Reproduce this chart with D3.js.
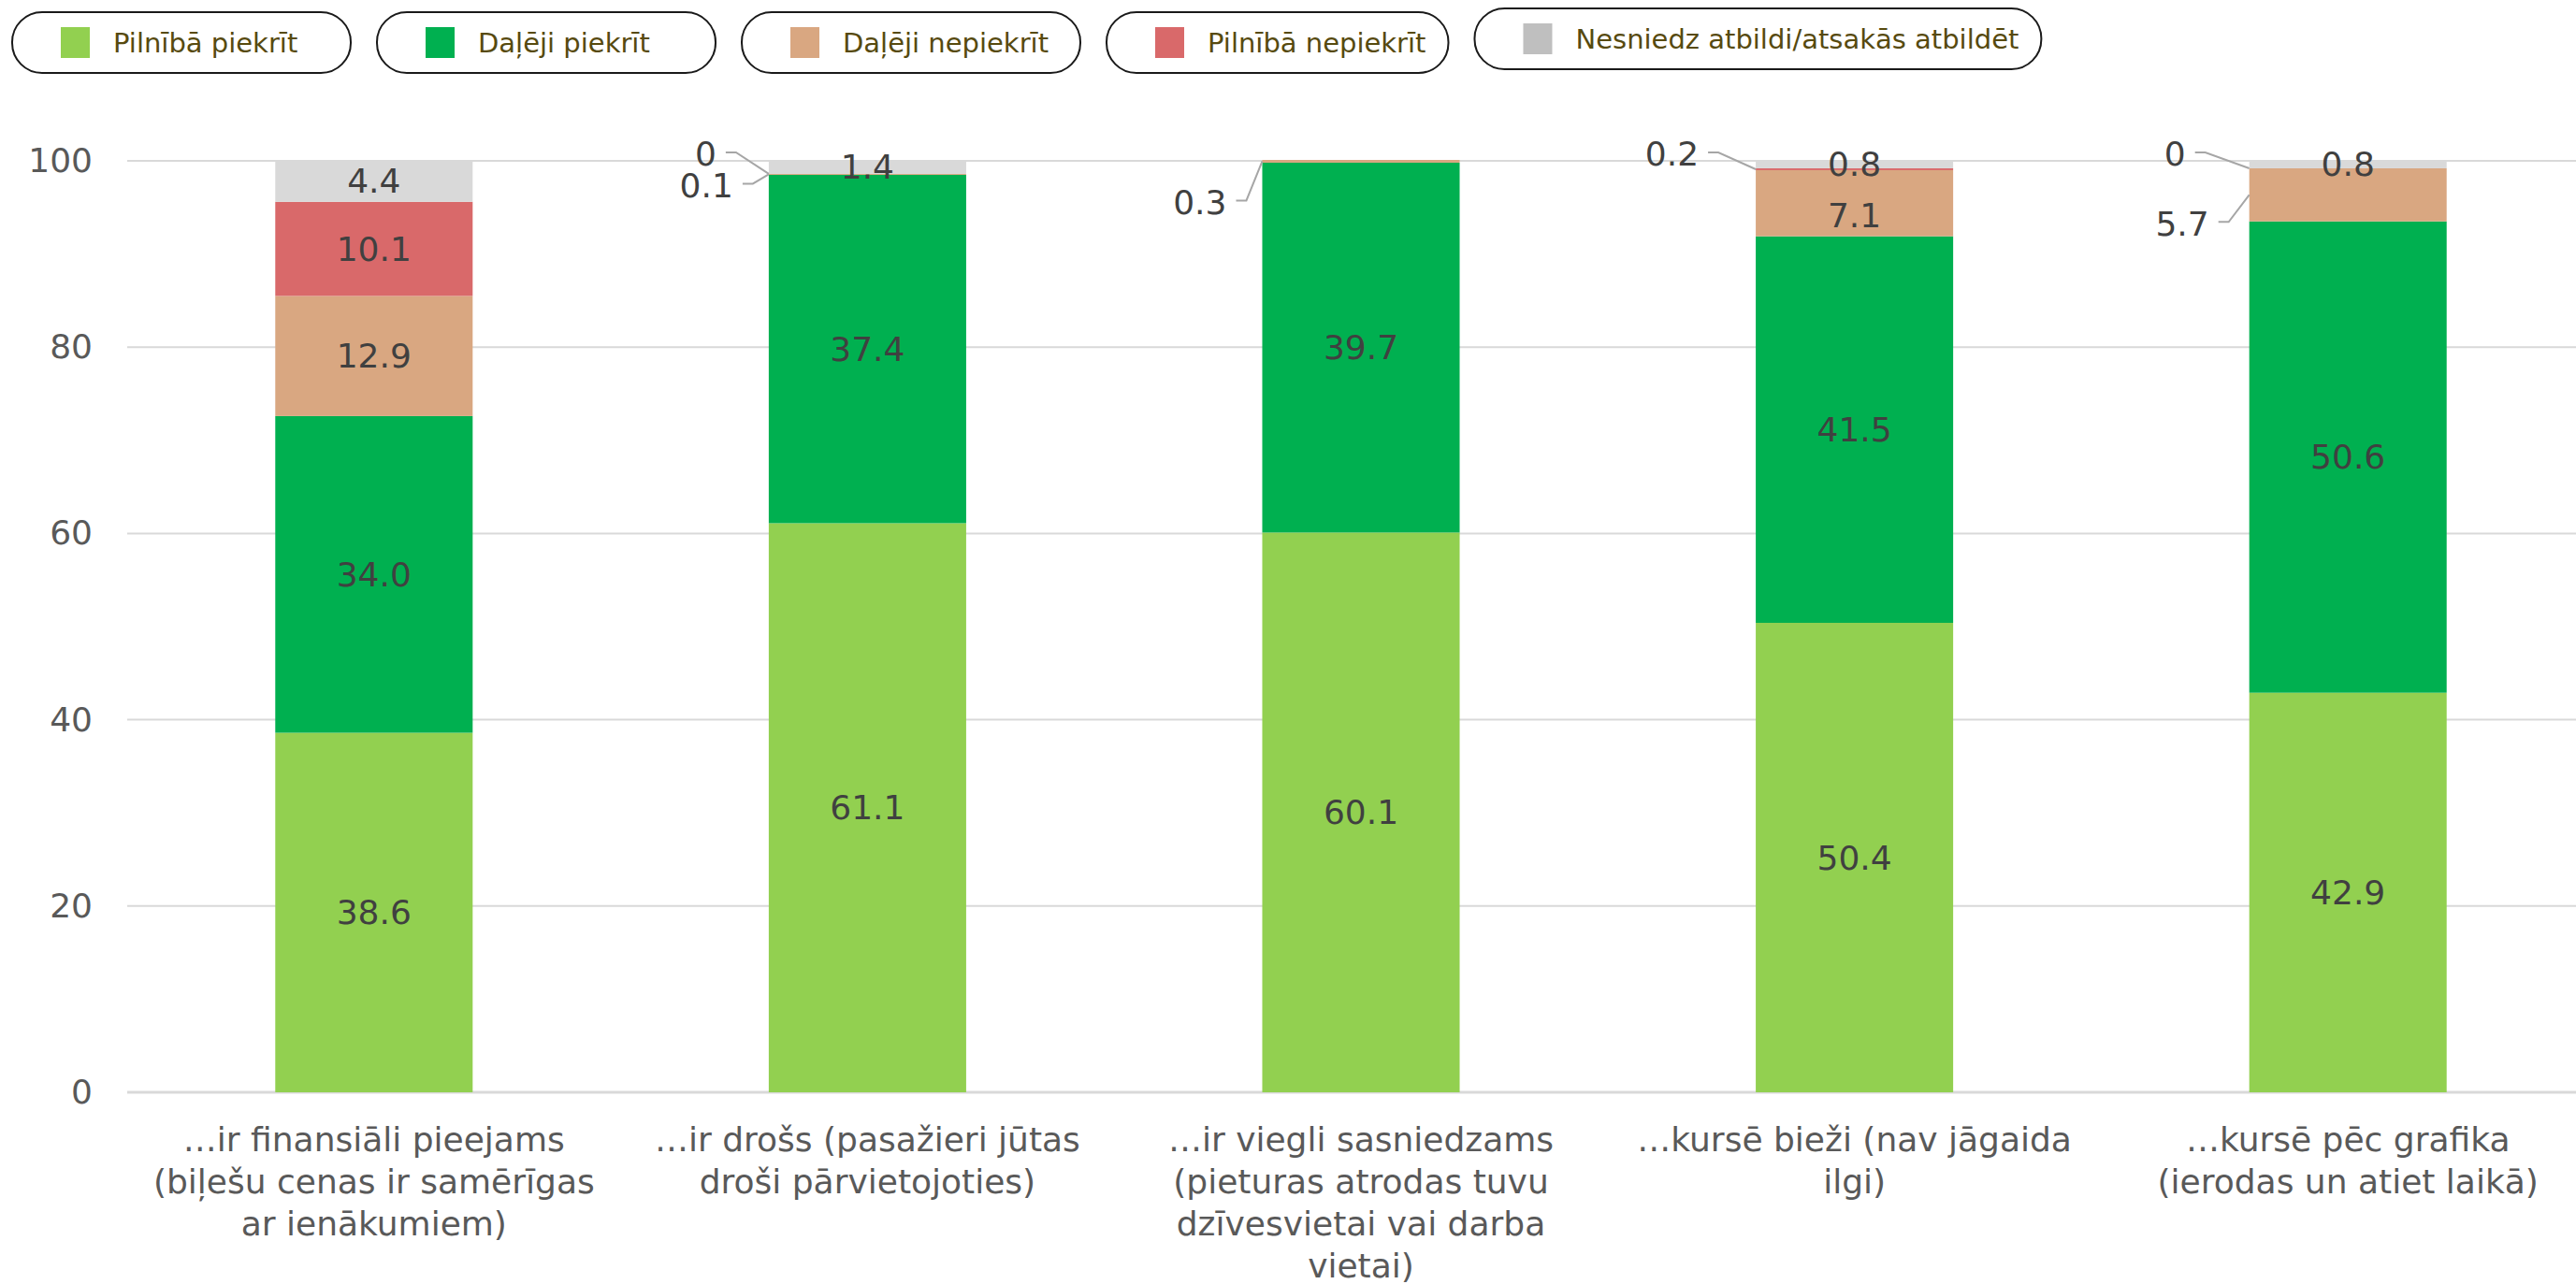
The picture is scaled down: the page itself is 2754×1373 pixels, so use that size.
<!DOCTYPE html>
<html>
<head>
<meta charset="utf-8">
<script src="https://cdn.jsdelivr.net/npm/d3@7"></script>
<style>
  body { margin: 0; background: #fff; }
  svg { display: block; font-family: "DejaVu Sans", Verdana, sans-serif; }
</style>
</head>
<body>
<svg id="chart" width="2754" height="1373"></svg>
<script>
// data
var categories = [
  ["…ir finansiāli pieejams", "(biļešu cenas ir samērīgas", "ar ienākumiem)"],
  ["…ir drošs (pasažieri jūtas", "droši pārvietojoties)"],
  ["…ir viegli sasniedzams", "(pieturas atrodas tuvu", "dzīvesvietai vai darba", "vietai)"],
  ["…kursē bieži (nav jāgaida", "ilgi)"],
  ["…kursē pēc grafika", "(ierodas un atiet laikā)"]
];
var seriesNames = ["Pilnībā piekrīt", "Daļēji piekrīt", "Daļēji nepiekrīt", "Pilnībā nepiekrīt", "Nesniedz atbildi/atsakās atbildēt"];
var pilnibaPiekrit   = [38.6, 61.1, 60.1, 50.4, 42.9];
var dalejiPiekrit    = [34.0, 37.4, 39.7, 41.5, 50.6];
var dalejiNepiekrit  = [12.9, 0.1, 0.3, 7.1, 5.7];
var pilnibaNepiekrit = [10.1, 0, null, 0.2, 0];
var nesniedz         = [4.4, 1.4, null, 0.8, 0.8];
var yTicks = [0, 20, 40, 60, 80, 100];

var seriesValues = [pilnibaPiekrit, dalejiPiekrit, dalejiNepiekrit, pilnibaNepiekrit, nesniedz];
var barColors = ["#92d050", "#00b050", "#d9a781", "#d9696a", "#d9d9d9"];
var legendColors = ["#92d050", "#00b050", "#d9a781", "#d9696a", "#bfbfbf"];

// labels that Excel pulled outside the bar (category, series, leader offsets)
var callouts = [
  {c: 1, s: 2, dx: -28, dy: 10},
  {c: 1, s: 3, dx: -46, dy: -23},
  {c: 2, s: 2, dx: -28, dy: 42},
  {c: 3, s: 3, dx: -51, dy: -18},
  {c: 4, s: 3, dx: -58, dy: -17},
  {c: 4, s: 2, dx: -33, dy: 29}
];

var svg = d3.select("#chart");

var x = d3.scaleBand()
  .domain(d3.range(categories.length))
  .range([136, 2774])
  .paddingInner(0.6)
  .paddingOuter(0.3);

var y = d3.scaleLinear().domain([0, 100]).range([1168, 172]);

// gridlines
svg.append("g")
  .selectAll("line")
  .data(yTicks)
  .enter()
  .append("line")
  .attr("x1", 136).attr("x2", 2754)
  .attr("y1", d => y(d)).attr("y2", d => y(d))
  .attr("stroke", "#d9d9d9")
  .attr("stroke-width", d => d == 0 ? 3 : 2);

// y axis labels
var yAxis = d3.axisLeft(y).tickValues(yTicks).tickSize(0).tickPadding(0);
svg.append("g")
  .attr("transform", "translate(99,0)")
  .call(yAxis)
  .call(g => g.select(".domain").remove())
  .selectAll("text")
  .attr("font-size", 36)
  .attr("font-family", "DejaVu Sans, Verdana, sans-serif")
  .attr("fill", "#595959");

// stack
var rows = categories.map(function (c, i) {
  var r = {i: i};
  seriesValues.forEach(function (s, k) { r[k] = s[i] || 0; });
  return r;
});
var stack = d3.stack().keys(d3.range(seriesNames.length));
var stacked = stack(rows);

svg.append("g")
  .selectAll("g")
  .data(stacked)
  .enter()
  .append("g")
  .attr("fill", d => barColors[d.key])
  .selectAll("rect")
  .data(d => d)
  .enter()
  .append("rect")
  .attr("x", d => x(d.data.i))
  .attr("width", x.bandwidth())
  .attr("y", d => y(d[1]))
  .attr("height", d => y(d[0]) - y(d[1]));

function fmt(v) { return v == 0 ? "0" : v.toFixed(1); }

// value labels
var labelG = svg.append("g")
  .attr("font-size", 36)
  .attr("fill", "#404040");

categories.forEach(function (c, i) {
  var prevY = -1000;
  // from top of the bar down
  for (var k = seriesNames.length - 1; k >= 0; k--) {
    var v = seriesValues[k][i];
    if (v == null) continue;
    var seg = stacked[k][i];
    var midY = (y(seg[0]) + y(seg[1])) / 2;
    var co = callouts.find(o => o.c == i && o.s == k);
    if (co) {
      var ax = x(i), ay = midY;
      var sx = ax + co.dx, sy = ay + co.dy;
      svg.append("polyline")
        .attr("points", [[sx, sy], [sx + 11, sy], [ax, ay]].join(" "))
        .attr("fill", "none")
        .attr("stroke", "#a6a6a6")
        .attr("stroke-width", 2);
      labelG.append("text")
        .attr("x", sx - 10)
        .attr("y", sy + 2)
        .attr("text-anchor", "end")
        .attr("dominant-baseline", "central")
        .text(fmt(v));
      continue;
    }
    var ly = Math.max(midY, prevY + 55);
    prevY = ly;
    labelG.append("text")
      .attr("x", x(i) + x.bandwidth() / 2)
      .attr("y", ly)
      .attr("text-anchor", "middle")
      .attr("dominant-baseline", "central")
      .text(fmt(v));
  }
});

// category labels
var catG = svg.append("g")
  .attr("font-size", 36)
  .attr("fill", "#595959")
  .attr("text-anchor", "middle");
categories.forEach(function (lines, i) {
  var t = catG.append("text")
    .attr("x", x(i) + x.bandwidth() / 2)
    .attr("y", 1218)
    .attr("dominant-baseline", "central");
  lines.forEach(function (l, j) {
    t.append("tspan")
      .attr("x", x(i) + x.bandwidth() / 2)
      .attr("dy", j == 0 ? 0 : 45)
      .text(l);
  });
});

// legend pills
var legG = svg.append("g");
var lx = 13;
seriesNames.forEach(function (name, k) {
  var g = legG.append("g").attr("transform", "translate(" + lx + "," + (k == 4 ? 9 : 13) + ")");
  var rect = g.append("rect")
    .attr("height", 65)
    .attr("rx", 32).attr("ry", 32)
    .attr("fill", "#fff")
    .attr("stroke", "#1a1a1a")
    .attr("stroke-width", 2);
  g.append("rect")
    .attr("x", 52).attr("y", 16)
    .attr("width", 31).attr("height", 33)
    .attr("fill", legendColors[k]);
  var txt = g.append("text")
    .attr("x", 108).attr("y", 33)
    .attr("dominant-baseline", "central")
    .attr("font-size", 29)
    .attr("fill", "#574a0f")
    .text(name);
  var w = Math.max(362, 108 + txt.node().getComputedTextLength() + 24);
  rect.attr("width", w);
  lx += w + 28;
});
</script>
</body>
</html>
